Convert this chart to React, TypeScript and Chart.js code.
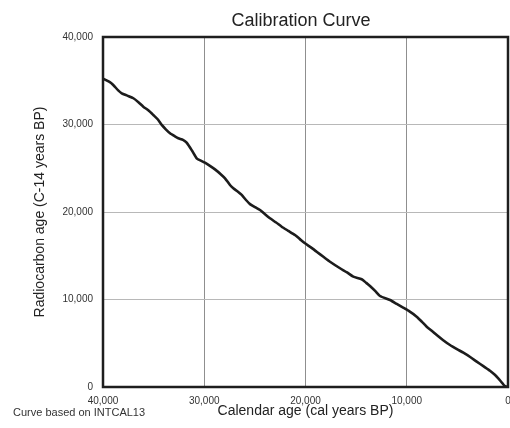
import React, { useEffect, useRef } from "react";
import { Chart, registerables } from "chart.js";

Chart.register(...registerables);

const TITLE = "Calibration Curve";
const X_TITLE = "Calendar age (cal years BP)";
const Y_TITLE = "Radiocarbon age (C-14 years BP)";
const FOOTNOTE = "Curve based on INTCAL13";

const X_TICKS = [40000, 30000, 20000, 10000, 0];
const Y_TICKS = [0, 10000, 20000, 30000, 40000];

// Calendar age (cal years BP)
const calAge = [
  40000, 39400, 38990, 38500, 38150, 37600, 37000, 36500, 36020, 35500,
  35030, 34600, 34200, 33800, 33380, 32900, 32560, 32100, 31740, 31200,
  30750, 30300, 29930, 29400, 28940, 28400, 27950, 27460, 27130, 26700,
  26300, 25900, 25480, 24990, 24490, 24000, 23510, 22900, 22350, 21700,
  21040, 20550, 20050, 19500, 18900, 18200, 17580, 16590, 15900, 15280,
  14450, 14000, 13630, 13100, 12640, 11650, 10990, 10400, 9840, 9020,
  8500, 8030, 7500, 7040, 6400, 5730, 5000, 4410, 3700, 3090,
  2400, 1780, 1300, 960, 600, 300, 0,
];

// Radiocarbon age (C-14 years BP)
const c14Age = [
  35250, 34900, 34520, 33900, 33570, 33300, 33000, 32550, 32040, 31600,
  31090, 30600, 29950, 29450, 29000, 28650, 28430, 28250, 27930, 27000,
  26140, 25850, 25640, 25250, 24870, 24350, 23850, 23090, 22710, 22350,
  21950, 21400, 20900, 20550, 20230, 19750, 19280, 18800, 18320, 17850,
  17370, 16900, 16420, 15980, 15460, 14850, 14320, 13570, 13100, 12610,
  12310, 11900, 11540, 10950, 10400, 9940, 9490, 9100, 8720, 8040,
  7450, 6890, 6400, 5940, 5350, 4800, 4300, 3920, 3400, 2900,
  2350, 1860, 1400, 990, 500, 100, 0,
];

const FONT = '"Liberation Sans", Arial, sans-serif';

export default function App() {
  const canvasRef = useRef<HTMLCanvasElement | null>(null);

  useEffect(() => {
    const canvas = canvasRef.current;
    if (!canvas) return;

    const textPlugin = {
      id: "textAndFrame",
      afterDraw(chart: any) {
        const { ctx, chartArea } = chart;
        ctx.save();
        // frame
        ctx.strokeStyle = "#1e1e1e";
        ctx.lineWidth = 2.5;
        ctx.strokeRect(
          chartArea.left,
          chartArea.top,
          chartArea.right - chartArea.left,
          chartArea.bottom - chartArea.top
        );
        // title
        ctx.fillStyle = "#222";
        ctx.font = `18px ${FONT}`;
        ctx.textAlign = "center";
        ctx.textBaseline = "middle";
        ctx.fillText(TITLE, 301, 21);
        // footnote
        ctx.fillStyle = "#333";
        ctx.font = `11px ${FONT}`;
        ctx.textAlign = "left";
        ctx.fillText(FOOTNOTE, 13, 413);
        ctx.restore();
      },
    };

    const chart = new Chart(canvas, {
      type: "line",
      data: {
        datasets: [
          {
            data: calAge.map((x, i) => ({ x, y: c14Age[i] })),
            borderColor: "#1c1c1c",
            borderWidth: 2.6,
            pointRadius: 0,
            tension: 0.2,
            fill: false,
          },
        ],
      },
      options: {
        responsive: false,
        animation: false,
        layout: { padding: { top: 37, right: 2, bottom: 0, left: 0 } },
        plugins: {
          legend: { display: false },
          tooltip: { enabled: false },
          title: { display: false },
        },
        scales: {
          x: {
            type: "linear",
            reverse: true,
            min: 0,
            max: 40000,
            afterBuildTicks: (scale: any) => {
              scale.ticks = X_TICKS.map((v) => ({ value: v }));
            },
            afterFit: (scale: any) => {
              scale.height = 41;
              scale.paddingLeft = 0;
              scale.paddingRight = 0;
            },
            grid: { color: "#8f8f8f", lineWidth: 1, drawTicks: false },
            border: { display: false },
            ticks: {
              padding: 8,
              maxRotation: 0,
              autoSkip: false,
              color: "#333",
              font: { family: FONT, size: 10 },
              callback: (v: any) => Number(v).toLocaleString("en-US"),
            },
            title: {
              display: true,
              text: X_TITLE,
              color: "#222",
              font: { family: FONT, size: 14 },
              padding: { top: 8, bottom: 8 },
            },
          },
          y: {
            type: "linear",
            min: 0,
            max: 40000,
            afterBuildTicks: (scale: any) => {
              scale.ticks = Y_TICKS.map((v) => ({ value: v }));
            },
            afterFit: (scale: any) => {
              scale.width = 103;
            },
            grid: { color: "#b8b8b8", lineWidth: 1, drawTicks: false },
            border: { display: false },
            ticks: {
              padding: 10,
              color: "#333",
              font: { family: FONT, size: 10 },
              callback: (v: any) => Number(v).toLocaleString("en-US"),
            },
            title: {
              display: true,
              text: Y_TITLE,
              color: "#222",
              font: { family: FONT, size: 14 },
              padding: { top: 32, bottom: 32 },
            },
          },
        },
      },
      plugins: [textPlugin],
    } as any);

    return () => chart.destroy();
  }, []);

  return (
    <div style={{ position: "absolute", left: 0, top: 0, width: 510, height: 428, background: "#fff" }}>
      <canvas ref={canvasRef} width={510} height={428} style={{ width: 510, height: 428, display: "block" }} />
    </div>
  );
}
